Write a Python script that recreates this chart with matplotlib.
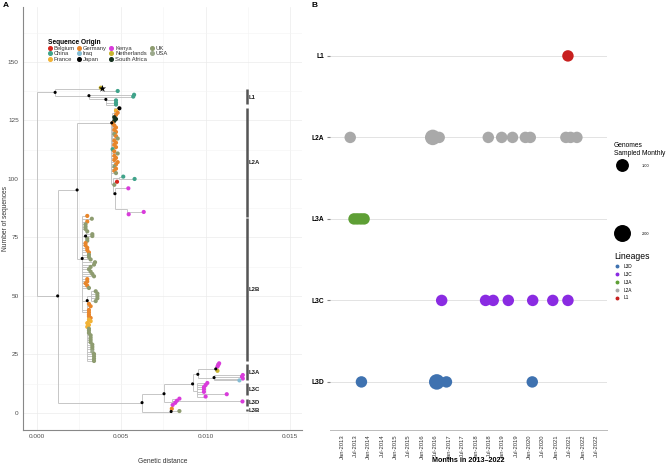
import matplotlib
matplotlib.use("Agg")
import matplotlib.pyplot as plt
import matplotlib.dates as mdates
from matplotlib.lines import Line2D
from matplotlib.collections import LineCollection
import pandas as pd

plt.rcParams['font.family'] = ['Liberation Sans', 'DejaVu Sans']

# ---------------- Panel A: phylogenetic tree ----------------
node_names = ["root", "L1n", "L1b", "L1c", "L1e", "N50", "N95",
              "L2An", "L2At", "L2Am", "L2Al", "L2Ab", "L2Ak", "L2Ak2",
              "L2Bn", "L2B1", "L2B2", "L2B2a",
              "L3r", "L3P", "L3R", "L3A", "L3A1", "L3A2", "L3Cn", "L3Dn", "L3Bn"]
node_parent = [None, "root", "L1n", "L1n", "L1c", "root", "N50",
               "N95", "L2An", "L2An", "L2Am", "L2Al", "L2Al", "L2Ak",
               "N95", "L2Bn", "L2Bn", "L2B2",
               "N50", "L3r", "L3P", "L3R", "L3A", "L3A", "L3R", "L3P", "L3r"]
node_x = [0.0, 0.0011, 0.0039, 0.0031, 0.0041, 0.00125, 0.0024,
          0.00445, 0.0046, 0.0044, 0.0045, 0.0049, 0.00464, 0.00537,
          0.0027, 0.0029, 0.0030, 0.0032,
          0.00624, 0.00754, 0.00923, 0.00954, 0.0106, 0.0105, 0.0095, 0.0080, 0.00796]
node_y = [93.5, 137.0, 138.5, 135.6, 134.0, 50.0, 95.3,
          124.0, 128.0, 112.0, 98.0, 100.5, 93.7, 87.0,
          66.0, 75.6, 48.0, 50.0,
          4.4, 8.2, 12.4, 16.5, 18.8, 15.1, 9.5, 4.6, 0.6]
node_dot = [False, True, False, True, True, True, True,
            True, False, False, False, False, True, False,
            True, True, True, False,
            True, True, True, True, True, True, False, False, True]

tip_parent = (["L1b"] * 2 + ["L1c"] * 2 + ["L1e"] * 3 +
              ["L2At"] * 7 + ["L2Am"] * 24 + ["L2Ab"] * 2 + ["L2Al"] * 2 +
              ["L2Ak"] + ["L2Ak2"] * 2 +
              ["L2Bn"] * 6 + ["L2B1"] * 5 + ["L2Bn"] * 22 + ["L2B2a"] * 5 + ["L2B2"] * 25 +
              ["L3A1"] * 4 + ["L3A2"] * 4 + ["L3Cn"] * 7 + ["L3Dn"] * 5 + ["L3Bn"] * 2)
tip_x = ([0.0038, 0.0048, 0.00577, 0.00572, 0.0047, 0.0047, 0.0047,
          0.0049, 0.0047, 0.0048, 0.0047, 0.0046, 0.0047, 0.0046,
          0.0045, 0.0046, 0.0047, 0.0046, 0.0047, 0.0046, 0.0047, 0.0048, 0.0046, 0.0047, 0.0046, 0.0047,
          0.0045, 0.0046, 0.0048, 0.0046, 0.0047, 0.0046, 0.0048, 0.0047, 0.0046, 0.0047, 0.0046, 0.0047,
          0.00513, 0.0058, 0.00476, 0.0046,
          0.00543, 0.00634, 0.00545,
          0.0030, 0.00327, 0.0030, 0.0029, 0.0029, 0.0029,
          0.0030, 0.0033, 0.0033, 0.0030, 0.0030,
          0.0029, 0.0029, 0.0030, 0.0030, 0.0031, 0.0031, 0.0031, 0.0032, 0.00346, 0.0034, 0.0032,
          0.0031, 0.0032, 0.0033, 0.0034, 0.0030, 0.0030, 0.0029, 0.0030, 0.0031, 0.0031, 0.0031,
          0.0035, 0.0036, 0.0036, 0.0036, 0.0035,
          0.0031, 0.0032, 0.0031, 0.0031, 0.0032, 0.0031, 0.0032, 0.0030, 0.0031, 0.0030, 0.0031,
          0.0031, 0.0031, 0.0032, 0.0032, 0.0032, 0.0032, 0.0033, 0.0033, 0.0033, 0.0033, 0.0034, 0.0034, 0.0034, 0.0034,
          0.0108, 0.01075, 0.0107, 0.0107,
          0.0122, 0.01215, 0.0122, 0.0120,
          0.0101, 0.0100, 0.0099, 0.0099, 0.0099, 0.01125, 0.0100,
          0.00805, 0.0082, 0.0083, 0.00845, 0.01218,
          0.0080, 0.00845])
tip_y = ([139.0, 137.6, 136.0, 135.2, 133.6, 132.6, 131.8,
          130.2, 129.2, 128.3, 127.4, 126.4, 125.6, 124.8,
          123.8, 122.9, 122.0, 121.0, 120.1, 119.2, 118.3, 117.3, 116.4, 115.5, 114.6, 113.6,
          112.7, 111.8, 110.9, 109.9, 109.0, 108.1, 107.2, 106.2, 105.3, 104.4, 103.5, 102.5,
          101.0, 100.0, 98.8, 97.5,
          96.0, 85.9, 84.9,
          84.2, 83.0, 81.8, 80.6, 79.6, 78.6,
          77.6, 76.4, 75.6, 74.5, 73.6,
          72.6, 71.6, 70.6, 69.6, 68.6, 67.6, 66.6, 65.6, 64.4, 63.4, 62.4,
          61.4, 60.4, 59.4, 58.4, 57.2, 56.2, 55.4, 54.4, 53.4, 44.0, 43.0,
          52.0, 51.0, 50.0, 49.0, 47.8,
          46.6, 45.6, 42.0, 41.3, 40.6, 39.9, 39.2, 38.4, 37.6, 36.8, 36.0,
          35.2, 34.2, 33.2, 32.2, 31.2, 30.2, 29.2, 28.2, 27.2, 26.2, 25.2, 24.2, 23.2, 22.2,
          21.2, 20.5, 19.8, 18.0,
          16.2, 15.5, 14.7, 13.9,
          12.8, 11.9, 11.0, 10.1, 9.0, 8.0, 7.0,
          3.4, 4.3, 5.2, 6.1, 4.9,
          1.8, 0.8])
tip_origin = (["Netherlands", "China", "China", "China", "China", "China", "China",
               "Japan", "France", "Germany", "Germany", "South Africa", "South Africa", "South Africa",
               "Germany", "Germany", "Germany", "Germany", "Germany", "UK", "Germany", "UK", "Germany", "Germany", "Germany", "Germany",
               "China", "Germany", "UK", "Germany", "Germany", "Germany", "Germany", "Germany", "UK", "Germany", "Germany", "UK",
               "China", "China", "Belgium", "UK",
               "Kenya", "Kenya", "Kenya",
               "Germany", "UK", "Germany", "UK", "UK", "UK",
               "UK", "UK", "UK", "UK", "UK",
               "Germany", "Germany", "Germany", "Germany", "Germany", "UK", "UK", "UK", "UK", "UK", "UK",
               "UK", "UK", "UK", "UK", "Germany", "Germany", "Germany", "Germany", "UK", "Germany", "Germany",
               "UK", "UK", "UK", "UK", "UK",
               "Germany", "Germany", "Germany", "Germany", "Germany", "France", "France", "France", "France", "France", "UK",
               "UK", "UK", "UK", "UK", "UK", "UK", "UK", "UK", "UK", "USA", "UK", "UK", "UK", "UK",
               "Kenya", "Kenya", "Kenya", "Netherlands",
               "Kenya", "Kenya", "Kenya", "Iraq",
               "Kenya", "Kenya", "Kenya", "Kenya", "Kenya", "Kenya", "Kenya",
               "Kenya", "Kenya", "Kenya", "Kenya", "Kenya",
               "Germany", "UK"])

origin_names = ["Belgium", "China", "France", "Germany", "Iraq", "Japan",
                "Kenya", "Netherlands", "South Africa", "UK", "USA"]
origin_colors = ["#D7261E", "#3FA38A", "#F2B234", "#E8862B", "#86BCD3", "#000000",
                 "#D93BDB", "#C9B42F", "#14301E", "#8E9C70", "#9CA98C"]

lineage_names = ["L1", "L2A", "L2B", "L3A", "L3C", "L3D", "L3B"]
lineage_ymin = [132.0, 83.7, 22.0, 14.0, 7.6, 3.1, 1.0]
lineage_ymax = [138.5, 130.2, 83.3, 20.7, 12.8, 6.1, 1.5]
lineage_label_y = [135.0, 107.0, 52.7, 17.2, 10.0, 4.4, 1.2]

star_x, star_y = 0.0039, 138.6

# ---------------- Panel B: monthly sampling ----------------
b_lineages = ["L1", "L2A", "L3A", "L3C", "L3D"]          # top to bottom
b_colors = ["#C8201F", "#A9A9A9", "#5E9F35", "#8A2BE2", "#3F72B0"]
obs_lineage = (["L1"] + ["L2A"] * 11 + ["L3A"] * 4 + ["L3C"] * 7 + ["L3D"] * 4)
obs_date = ["2021-06-10",
            "2013-04-22", "2016-05-22", "2016-08-18", "2018-06-19", "2018-12-19", "2019-05-16",
            "2019-11-07", "2020-01-13", "2021-05-13", "2021-07-16", "2021-10-10",
            "2013-06-13", "2013-07-28", "2013-09-13", "2013-10-28",
            "2016-09-21", "2018-05-13", "2018-08-25", "2019-03-19", "2020-02-15", "2020-11-15", "2021-06-10",
            "2013-09-22", "2016-07-16", "2016-11-25", "2020-02-09"]
obs_count = [1,
             1, 2, 1, 1, 1, 1, 1, 1, 1, 1, 1,
             1, 1, 1, 1,
             1, 1, 1, 1, 1, 1, 1,
             1, 2, 1, 1]
size_levels = [1.0, 2.0]
legend_lineages = ["L3D", "L3C", "L3A", "L2A", "L1"]

# ---------------- drawing ----------------
W, H = 666, 466
fig = plt.figure(figsize=(W / 100, H / 100), dpi=100)
area = {1: 68, 2: 125}

# Panel A
axA = fig.add_axes([23 / W, 36 / H, 279 / W, 423 / H])
idx = {n: i for i, n in enumerate(node_names)}
segs = []
span = {n: [node_y[i]] for i, n in enumerate(node_names)}
for i, n in enumerate(node_names):
    p = node_parent[i]
    if p is None:
        continue
    segs.append([(node_x[idx[p]], node_y[i]), (node_x[i], node_y[i])])
    span[p].append(node_y[i])
for p, x, y in zip(tip_parent, tip_x, tip_y):
    segs.append([(node_x[idx[p]], y), (x, y)])
    span[p].append(y)
for n, ys in span.items():
    if len(ys) > 1:
        xx = node_x[idx[n]]
        segs.append([(xx, min(ys)), (xx, max(ys))])
axA.add_collection(LineCollection(segs, colors="#BDBDBD", linewidths=0.6, zorder=2))

cmap = dict(zip(origin_names, origin_colors))
axA.scatter(tip_x, tip_y, s=9, c=[cmap[o] for o in tip_origin], edgecolors="none", zorder=3)
dx = [x for x, d in zip(node_x, node_dot) if d]
dy = [y for y, d in zip(node_y, node_dot) if d]
axA.scatter(dx, dy, s=5, c="black", edgecolors="none", zorder=4)
axA.scatter([star_x], [star_y], marker="*", s=30, c="black", edgecolors="none", zorder=5)

axA.vlines([0.01244] * len(lineage_names), lineage_ymin, lineage_ymax, colors="#555555", lw=1.8, zorder=3)
for name, yl in zip(lineage_names, lineage_label_y):
    axA.text(0.01256, yl, name, fontsize=4.3, fontweight="bold", va="center", ha="left", color="#222222")

axA.set_xlim(-0.0008, 0.0157)
axA.set_ylim(-7.3, 173.5)
axA.set_xticks([0.0, 0.005, 0.010, 0.015])
axA.set_xticklabels(["0.000", "0.005", "0.010", "0.015"])
axA.set_xticks([0.0025, 0.0075, 0.0125], minor=True)
axA.set_yticks([0, 25, 50, 75, 100, 125, 150])
axA.set_yticks([12.5, 37.5, 62.5, 87.5, 112.5, 137.5, 162.5], minor=True)
axA.grid(which="major", color="#EBEBEB", lw=0.5)
axA.grid(which="minor", color="#F4F4F4", lw=0.4)
axA.set_axisbelow(True)
for s in ["top", "right"]:
    axA.spines[s].set_visible(False)
for s in ["left", "bottom"]:
    axA.spines[s].set_color("#888888")
    axA.spines[s].set_linewidth(0.8)
axA.tick_params(which="both", length=0)
axA.tick_params(which="major", labelsize=4.6, labelcolor="#4D4D4D", pad=3)
axA.set_xlabel("Genetic distance", fontsize=4.8, color="#333333")
axA.xaxis.set_label_coords(0.5, (430 - 458) / 423)
axA.set_ylabel("Number of sequences", fontsize=4.8, color="#333333")
axA.yaxis.set_label_coords((9 - 23) / 279, 0.5)

handles = [Line2D([], [], marker="o", ls="", color=c, markersize=2.6) for c in origin_colors]
legA = axA.legend(handles, origin_names, ncol=4, loc="upper left",
                  bbox_to_anchor=((44 - 23) / 279, (430 - 35) / 423),
                  frameon=False, fontsize=4.2, title="Sequence Origin",
                  title_fontproperties={"weight": "bold", "size": 4.8},
                  labelspacing=0.05, handletextpad=0.3, columnspacing=0.45,
                  handlelength=0.7, borderpad=0.1, alignment="left")
for t in legA.get_texts():
    t.set_color("#333333")

# Panel B
axB = fig.add_axes([330 / W, 36 / H, 277 / W, 423 / H])
ypos = {name: len(b_lineages) - i for i, name in enumerate(b_lineages)}
bcol = dict(zip(b_lineages, b_colors))
dnum = mdates.date2num(pd.to_datetime(obs_date))
axB.scatter(dnum, [ypos[l] for l in obs_lineage], s=[area[c] for c in obs_count],
            c=[bcol[l] for l in obs_lineage], edgecolors="none", zorder=3)
axB.set_yticks([ypos[n] for n in b_lineages])
axB.set_yticklabels(b_lineages, fontsize=4.8, fontweight="bold")
axB.set_ylim(0.41, 5.6)
ticks = pd.date_range("2013-01-01", "2022-07-01", freq="6MS")
axB.set_xticks(mdates.date2num(ticks))
axB.set_xticklabels([t.strftime("%b-%Y") for t in ticks], rotation=90, fontsize=4.2, color="#333333")
axB.set_xlim(mdates.date2num(pd.Timestamp("2012-07-20")), mdates.date2num(pd.Timestamp("2022-11-25")))
axB.grid(axis="y", color="#E3E3E3", lw=0.7)
axB.set_axisbelow(True)
for s in ["top", "right", "left"]:
    axB.spines[s].set_visible(False)
axB.spines["bottom"].set_color("#BBBBBB")
axB.spines["bottom"].set_linewidth(0.7)
axB.tick_params(axis="y", length=2, color="#888888", pad=2)
axB.tick_params(axis="x", length=0, pad=3)
axB.set_xlabel("Months in 2013\u20132022", fontsize=5.2, fontweight="bold")
axB.xaxis.set_label_coords(0.5, (430 - 457) / 423)

size_handles = [Line2D([], [], marker="o", ls="", color="black",
                       markersize=(area[int(v)] ** 0.5)) for v in size_levels]
legS1 = fig.legend(size_handles[:1], ["%.2f" % size_levels[0]], loc="upper left",
                   bbox_to_anchor=(611 / W, 1 - 139 / H), frameon=False, fontsize=2.8,
                   title="Genomes\nSampled Monthly", title_fontsize=4.8, alignment="left",
                   labelspacing=1.8, handlelength=4.5, handletextpad=2.6, borderpad=0.2)
legS2 = fig.legend(size_handles[1:], ["%.2f" % size_levels[1]], loc="upper left",
                   bbox_to_anchor=(611 / W, 1 - 229 / H), frameon=False, fontsize=2.8,
                   handlelength=4.5, handletextpad=2.6, borderpad=0.2)
lh = [Line2D([], [], marker="o", ls="", color=bcol[n], markersize=1.8) for n in legend_lineages]
legL = fig.legend(lh, legend_lineages, loc="upper left",
                  bbox_to_anchor=(611 / W, 1 - 249 / H), frameon=False, fontsize=3.4,
                  title="Lineages", title_fontsize=6.2, alignment="left",
                  labelspacing=0.6, handletextpad=0.8, handlelength=1.2, borderpad=0.2)

fig.text(3 / W, 1 - 2 / H, "A", fontsize=6, fontweight="bold", va="top", ha="left")
fig.text(312 / W, 1 - 2 / H, "B", fontsize=6, fontweight="bold", va="top", ha="left")

fig.savefig("out.png", dpi=100)
